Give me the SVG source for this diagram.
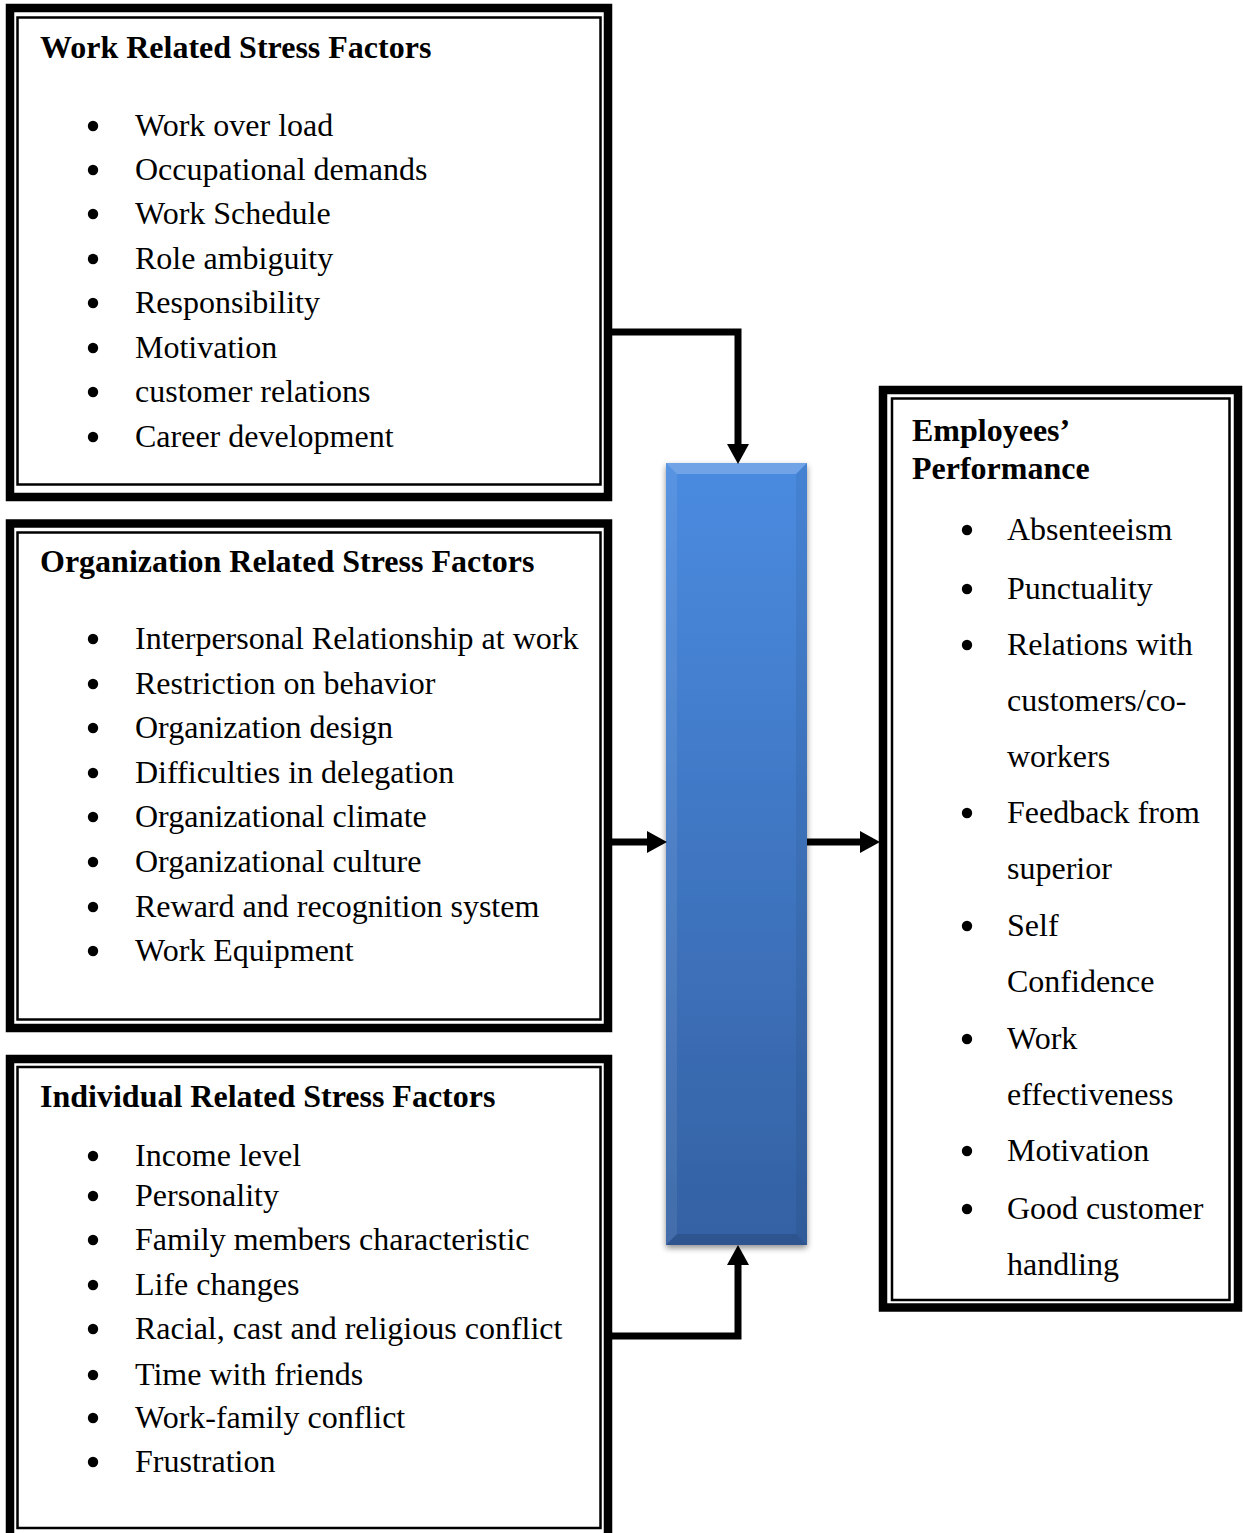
<svg xmlns="http://www.w3.org/2000/svg" width="1243" height="1533" viewBox="0 0 1243 1533">
<defs>
<style>
.outer{fill:#fff;stroke:#000;stroke-width:8.5}
.inner{fill:none;stroke:#000;stroke-width:2.5}
.title{font-family:"Liberation Serif","Times New Roman",serif;font-weight:bold;font-size:32px;fill:#000}
.item{font-family:"Liberation Serif","Times New Roman",serif;font-size:32px;fill:#000}
.conn{fill:none;stroke:#000;stroke-width:7}
</style>
<marker id="ah" markerUnits="userSpaceOnUse" markerWidth="20" markerHeight="22" refX="0" refY="11" orient="auto">
<path d="M0,0 L20,11 L0,22 z" fill="#000"/>
</marker>
<symbol id="b" overflow="visible"><circle cx="0" cy="0" r="5.2" fill="#000"/></symbol>
<linearGradient id="barg" x1="0" y1="0" x2="0" y2="1">
<stop offset="0" stop-color="#4a8be0"/>
<stop offset="1" stop-color="#3461a3"/>
</linearGradient>
<filter id="sh" x="-20%" y="-5%" width="140%" height="110%">
<feGaussianBlur in="SourceAlpha" stdDeviation="3"/>
<feOffset dx="0" dy="3"/>
<feComponentTransfer><feFuncA type="linear" slope="0.45"/></feComponentTransfer>
<feMerge><feMergeNode/><feMergeNode in="SourceGraphic"/></feMerge>
</filter>
</defs>

<g id="work-box">
<rect class="outer" x="10" y="8" width="598" height="489"/>
<rect class="inner" x="17.5" y="17.5" width="583" height="467"/>
<text class="title" x="40" y="58">Work Related Stress Factors</text>
<use href="#b" x="93" y="126"/><text class="item" x="135" y="136">Work over load</text>
<use href="#b" x="93" y="170"/><text class="item" x="135" y="180">Occupational demands</text>
<use href="#b" x="93" y="214"/><text class="item" x="135" y="224">Work Schedule</text>
<use href="#b" x="93" y="259"/><text class="item" x="135" y="269">Role ambiguity</text>
<use href="#b" x="93" y="303"/><text class="item" x="135" y="313">Responsibility</text>
<use href="#b" x="93" y="348"/><text class="item" x="135" y="358">Motivation</text>
<use href="#b" x="93" y="392"/><text class="item" x="135" y="402">customer relations</text>
<use href="#b" x="93" y="437"/><text class="item" x="135" y="447">Career development</text>
</g>

<g id="org-box">
<rect class="outer" x="10" y="523.5" width="598" height="504.5"/>
<rect class="inner" x="17.5" y="532.5" width="583" height="487"/>
<text class="title" x="40" y="572">Organization Related Stress Factors</text>
<use href="#b" x="93" y="639"/><text class="item" x="135" y="649">Interpersonal Relationship at work</text>
<use href="#b" x="93" y="684"/><text class="item" x="135" y="694">Restriction on behavior</text>
<use href="#b" x="93" y="728"/><text class="item" x="135" y="738">Organization design</text>
<use href="#b" x="93" y="773"/><text class="item" x="135" y="783">Difficulties in delegation</text>
<use href="#b" x="93" y="817"/><text class="item" x="135" y="827">Organizational climate</text>
<use href="#b" x="93" y="862"/><text class="item" x="135" y="872">Organizational culture</text>
<use href="#b" x="93" y="907"/><text class="item" x="135" y="917">Reward and recognition system</text>
<use href="#b" x="93" y="951"/><text class="item" x="135" y="961">Work Equipment</text>
</g>

<g id="individual-box">
<rect class="outer" x="10" y="1059" width="598" height="480"/>
<rect class="inner" x="17.5" y="1067" width="583" height="461"/>
<text class="title" x="40" y="1107">Individual Related Stress Factors</text>
<use href="#b" x="93" y="1156"/><text class="item" x="135" y="1166">Income level</text>
<use href="#b" x="93" y="1196"/><text class="item" x="135" y="1206">Personality</text>
<use href="#b" x="93" y="1240"/><text class="item" x="135" y="1250">Family members characteristic</text>
<use href="#b" x="93" y="1285"/><text class="item" x="135" y="1295">Life changes</text>
<use href="#b" x="93" y="1329"/><text class="item" x="135" y="1339">Racial, cast and religious conflict</text>
<use href="#b" x="93" y="1375"/><text class="item" x="135" y="1385">Time with friends</text>
<use href="#b" x="93" y="1418"/><text class="item" x="135" y="1428">Work-family conflict</text>
<use href="#b" x="93" y="1462"/><text class="item" x="135" y="1472">Frustration</text>
</g>

<g id="stress-bar">
<g filter="url(#sh)">
<rect x="666" y="463" width="141" height="782" fill="url(#barg)"/>
</g>
<polygon points="666,463 807,463 796,474 677,474" fill="#fff" opacity="0.22"/>
<polygon points="666,463 677,474 677,1234 666,1245" fill="#fff" opacity="0.08"/>
<polygon points="807,463 807,1245 796,1234 796,474" fill="#000" opacity="0.06"/>
<polygon points="666,1245 807,1245 796,1234 677,1234" fill="#000" opacity="0.12"/>
</g>

<g id="performance-box">
<rect class="outer" x="883" y="390" width="355" height="917.5"/>
<rect class="inner" x="892" y="398.5" width="337.5" height="901.5"/>
<text class="title" x="912" y="441">Employees’</text>
<text class="title" x="912" y="479">Performance</text>
<use href="#b" x="967" y="530"/><text class="item" x="1007" y="540">Absenteeism</text>
<use href="#b" x="967" y="589"/><text class="item" x="1007" y="599">Punctuality</text>
<use href="#b" x="967" y="645"/><text class="item" x="1007" y="655">Relations with</text>
<text class="item" x="1007" y="711">customers/co-</text>
<text class="item" x="1007" y="767">workers</text>
<use href="#b" x="967" y="813"/><text class="item" x="1007" y="823">Feedback from</text>
<text class="item" x="1007" y="879">superior</text>
<use href="#b" x="967" y="926"/><text class="item" x="1007" y="936">Self</text>
<text class="item" x="1007" y="992">Confidence</text>
<use href="#b" x="967" y="1039"/><text class="item" x="1007" y="1049">Work</text>
<text class="item" x="1007" y="1105">effectiveness</text>
<use href="#b" x="967" y="1151"/><text class="item" x="1007" y="1161">Motivation</text>
<use href="#b" x="967" y="1209"/><text class="item" x="1007" y="1219">Good customer</text>
<text class="item" x="1007" y="1275">handling</text>
</g>

<g id="connectors">
<path class="conn" d="M612 332 H738 V444" marker-end="url(#ah)"/>
<path class="conn" d="M612 842 H647" marker-end="url(#ah)"/>
<path class="conn" d="M807 842 H860" marker-end="url(#ah)"/>
<path class="conn" d="M612 1336 H738 V1265" marker-end="url(#ah)"/>
</g>
</svg>
